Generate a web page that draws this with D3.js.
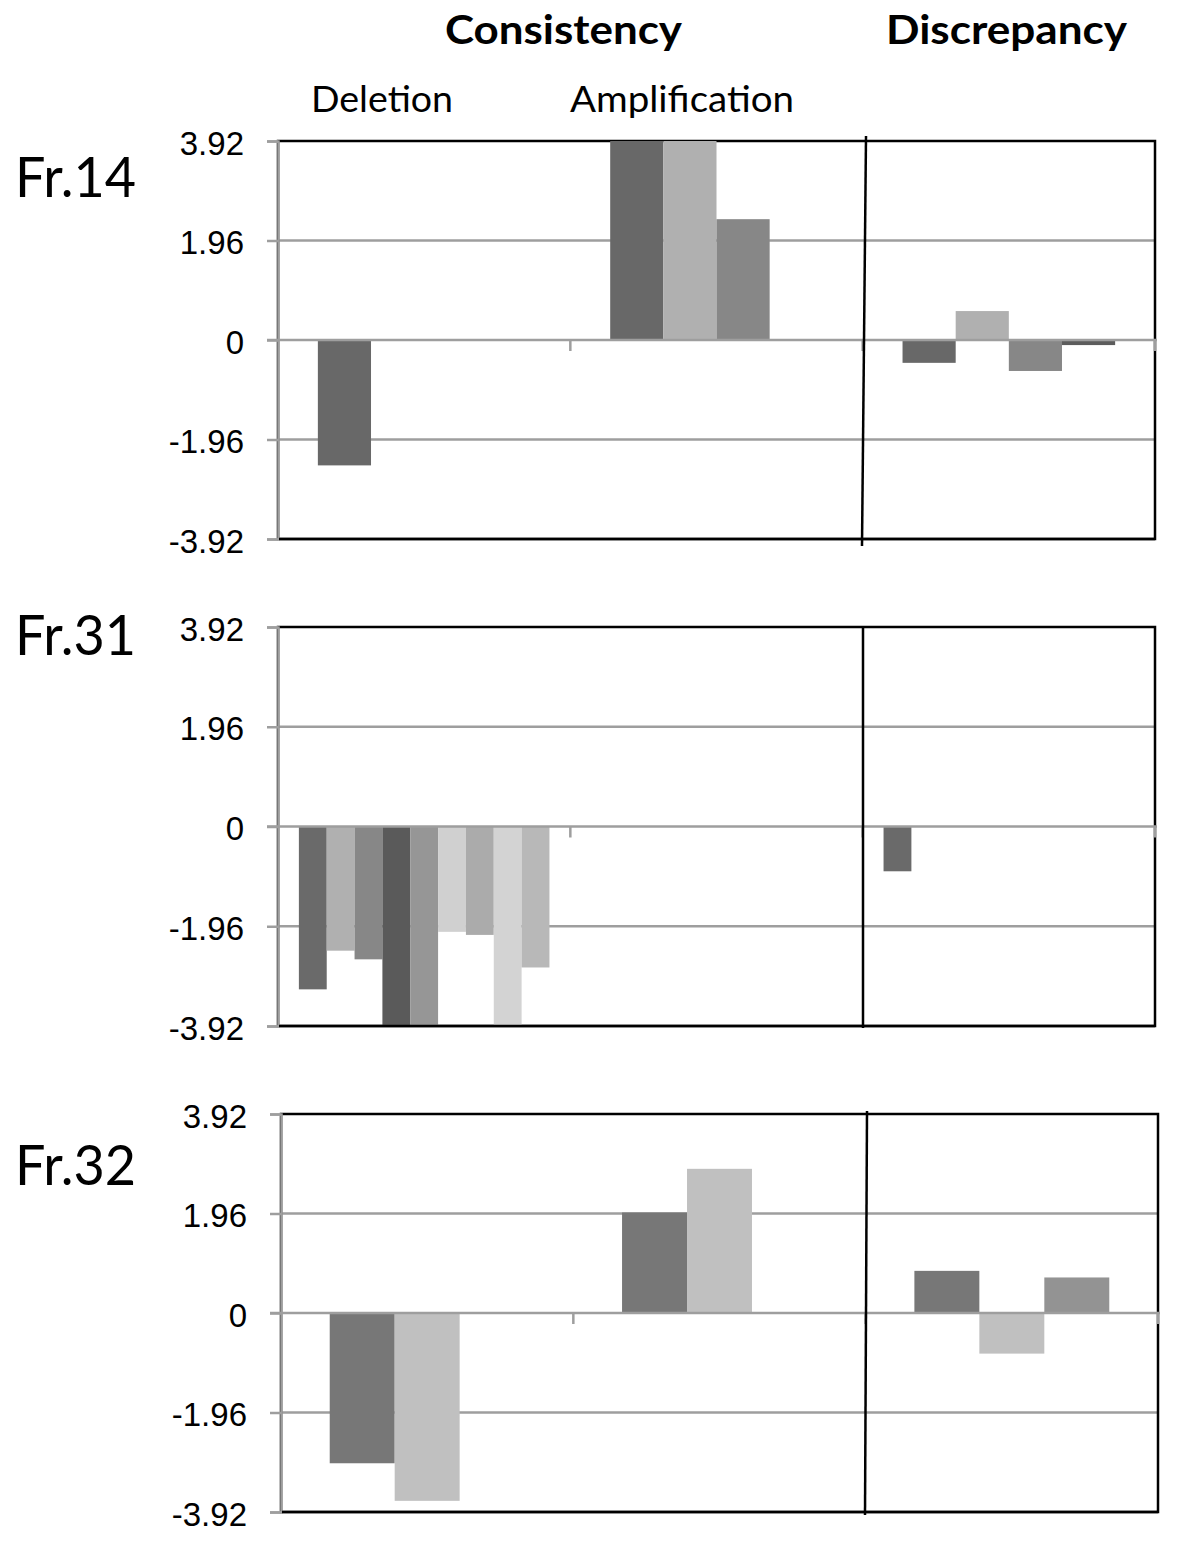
<!DOCTYPE html>
<html><head><meta charset="utf-8">
<script src="https://cdn.jsdelivr.net/npm/d3@7/dist/d3.min.js"></script>
<style>body{margin:0;background:#fff}</style>
</head><body>
<svg id="c" width="1200" height="1560"></svg>
<script>
// ---- data ----
const categories = ["Deletion", "Amplification", "Discrepancy"];
const yTickValues = [-3.92, -1.96, 0, 1.96, 3.92];
const yTickLabels = ["-3.92", "-1.96", "0", "1.96", "3.92"];
const panelNames = ["Fr.14", "Fr.31", "Fr.32"];
const groupHeaders = ["Consistency", "Discrepancy"];
const subHeaders = ["Deletion", "Amplification"];

// Fr.14 : 4 series, one value per category (null = no bar)
const fr14S1 = [-2.47, 3.92, -0.45];
const fr14S2 = [null, 3.92, 0.57];
const fr14S3 = [null, 2.38, -0.61];
const fr14S4 = [null, null, -0.10];

// Fr.31 : 9 series
const fr31S1 = [-3.20, null, -0.88];
const fr31S2 = [-2.44, null, null];
const fr31S3 = [-2.61, null, null];
const fr31S4 = [-3.92, null, null];
const fr31S5 = [-3.92, null, null];
const fr31S6 = [-2.07, null, null];
const fr31S7 = [-2.13, null, null];
const fr31S8 = [-3.92, null, null];
const fr31S9 = [-2.77, null, null];

// Fr.32 : 3 series
const fr32S1 = [-2.96, 1.98, 0.83];
const fr32S2 = [-3.70, 2.84, -0.80];
const fr32S3 = [null, null, 0.70];

// ---- styles ----
const fr14Colors = ["#686868", "#b0b0b0", "#878787", "#5c5c5c"];
const fr31Colors = ["#6a6a6a", "#b0b0b0", "#878787", "#5a5a5a", "#969696", "#d0d0d0", "#ababab", "#d3d3d3", "#b8b8b8"];
const fr32Colors = ["#777777", "#c0c0c0", "#939393"];

const GRID = "#9e9e9e";
const HFONT = "Lato, 'Open Sans', sans-serif";

const panels = [
  { name: panelNames[0], series: [fr14S1, fr14S2, fr14S3, fr14S4], colors: fr14Colors,
    left: 278, right: 1155, top: 141, bottom: 539, labelY: 197, div: [866, 136, 862, 546] },
  { name: panelNames[1], series: [fr31S1, fr31S2, fr31S3, fr31S4, fr31S5, fr31S6, fr31S7, fr31S8, fr31S9], colors: fr31Colors,
    left: 278, right: 1155, top: 627, bottom: 1026, labelY: 655, div: [863, 626, 863, 1028] },
  { name: panelNames[2], series: [fr32S1, fr32S2, fr32S3], colors: fr32Colors,
    left: 281, right: 1158, top: 1114, bottom: 1512, labelY: 1185, div: [867, 1111, 865, 1515] }
];

const svg = d3.select("#c");

// headers
svg.append("text").text(groupHeaders[0])
  .attr("x", 445).attr("y", 44)
  .attr("font-family", HFONT).attr("font-weight", "bold")
  .attr("font-size", 41).attr("textLength", 237).attr("lengthAdjust", "spacingAndGlyphs").attr("fill", "#000");
svg.append("text").text(groupHeaders[1])
  .attr("x", 886).attr("y", 44)
  .attr("font-family", HFONT).attr("font-weight", "bold")
  .attr("font-size", 41).attr("textLength", 241).attr("lengthAdjust", "spacingAndGlyphs").attr("fill", "#000");
svg.append("text").text(subHeaders[0])
  .attr("x", 311).attr("y", 112)
  .attr("font-family", HFONT)
  .attr("font-size", 37).attr("textLength", 142).attr("lengthAdjust", "spacingAndGlyphs").attr("fill", "#000");
svg.append("text").text(subHeaders[1])
  .attr("x", 570).attr("y", 112)
  .attr("font-family", HFONT)
  .attr("font-size", 37).attr("textLength", 224).attr("lengthAdjust", "spacingAndGlyphs").attr("fill", "#000");

panels.forEach(p => {
  const g = svg.append("g");
  const y = d3.scaleLinear().domain([-3.92, 3.92]).range([p.bottom, p.top]);
  const x0 = d3.scaleBand().domain(categories).range([p.left, p.right]).padding(0);
  const seriesIdx = d3.range(p.series.length);
  const x1 = d3.scaleBand().domain(seriesIdx).range([0, x0.bandwidth()]).paddingInner(0).paddingOuter(0.75);

  // panel label
  g.append("text").text(p.name)
    .attr("x", 15).attr("y", p.labelY)
    .attr("font-family", HFONT)
    .attr("font-size", 56).attr("textLength", 121).attr("lengthAdjust", "spacingAndGlyphs").attr("fill", "#000");

  // gridlines (excluding zero and edges)
  g.selectAll("line.grid").data(yTickValues.filter(v => v !== 0 && Math.abs(v) < 3.9))
    .enter().append("line")
    .attr("x1", p.left).attr("x2", p.right)
    .attr("y1", d => y(d)).attr("y2", d => y(d))
    .attr("stroke", GRID).attr("stroke-width", 2.5);

  // plot border (black)
  g.append("rect")
    .attr("x", p.left).attr("y", p.top)
    .attr("width", p.right - p.left).attr("height", p.bottom - p.top)
    .attr("fill", "none").attr("stroke", "#000").attr("stroke-width", 2.5);

  // bars
  p.series.forEach((vals, si) => {
    g.selectAll(null).data(categories.map((c, ci) => ({ c, v: vals[ci] })).filter(d => d.v !== null))
      .enter().append("rect")
      .attr("x", d => x0(d.c) + x1(si))
      .attr("width", x1.bandwidth())
      .attr("y", d => y(Math.max(0, d.v)))
      .attr("height", d => Math.abs(y(d.v) - y(0)))
      .attr("fill", p.colors[si]);
  });

  // zero axis line with category ticks
  g.append("line")
    .attr("x1", p.left - 11).attr("x2", p.right + 2)
    .attr("y1", y(0)).attr("y2", y(0))
    .attr("stroke", GRID).attr("stroke-width", 2.5);
  const boundaries = categories.map(c => x0(c) + x0.bandwidth());
  g.selectAll(null).data(boundaries).enter().append("line")
    .attr("x1", d => d).attr("x2", d => d)
    .attr("y1", y(0)).attr("y2", y(0) + 11)
    .attr("stroke", GRID).attr("stroke-width", 2.5);

  // y axis
  const axis = d3.axisLeft(y).tickValues(yTickValues)
    .tickFormat((d, i) => yTickLabels[i]).tickSize(11).tickPadding(23);
  const ag = g.append("g").attr("transform", `translate(${p.left},0)`).call(axis);
  ag.select(".domain").attr("stroke", GRID).attr("stroke-width", 2.5);
  ag.selectAll(".tick line").attr("stroke", GRID).attr("stroke-width", 2.5);
  ag.selectAll(".tick text")
    .attr("font-family", "'Liberation Sans', Arial, sans-serif")
    .attr("font-size", 33).attr("fill", "#000").attr("dy", "0.4em");

  // bottom black border over axis at bottom-left
  g.append("line")
    .attr("x1", p.left + 1).attr("x2", p.right)
    .attr("y1", p.bottom).attr("y2", p.bottom)
    .attr("stroke", "#000").attr("stroke-width", 2.5);

  // divider line (hand-drawn)
  g.append("line")
    .attr("x1", p.div[0]).attr("y1", p.div[1])
    .attr("x2", p.div[2]).attr("y2", p.div[3])
    .attr("stroke", "#000").attr("stroke-width", 2.5);
});
</script>
</body></html>
